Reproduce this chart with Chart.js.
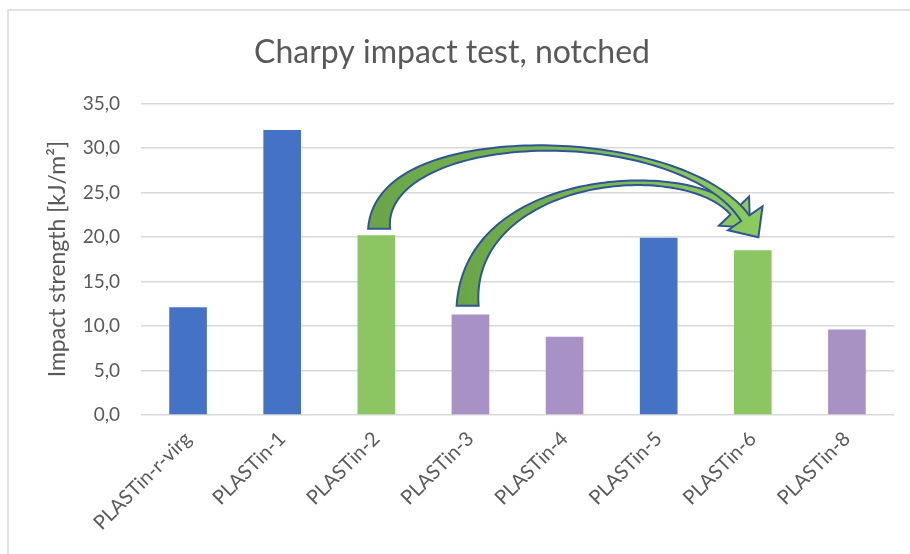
<!DOCTYPE html>
<html>
<head>
<meta charset="utf-8">
<script src="https://cdn.jsdelivr.net/npm/chart.js@4"></script>
<style>
  html, body { margin: 0; padding: 0; background: #fff; }
  #wrap { width: 910px; height: 554px; position: relative; }
</style>
</head>
<body>
<div id="wrap"><canvas id="charpyChart" width="910" height="554"></canvas></div>
<script>
// Chart data
const categories = ['PLASTin-r-virg', 'PLASTin-1', 'PLASTin-2', 'PLASTin-3', 'PLASTin-4', 'PLASTin-5', 'PLASTin-6', 'PLASTin-8'];
const impactStrength = [12.1, 32.0, 20.2, 11.3, 8.8, 19.9, 18.5, 9.6];
const yTicks = [0, 5, 10, 15, 20, 25, 30, 35];

// bar colours (blue = reference, green = pair, purple = others)
const barColors = ['#4472C4', '#4472C4', '#8BC663', '#A791C5', '#A791C5', '#4472C4', '#8BC663', '#A791C5'];

// curved arrows, anchored in data space (category index, value)
const arrows = [
  { p0: [2.97, 12.27], p1: [2.97, 27.0], p2: [5.25, 28.9], p3: [5.80, 22.9] },
  { p0: [2.03, 20.93], p1: [2.03, 32.8], p2: [5.22, 32.8], p3: [5.92, 22.1] }
];

const fontFamily = 'Lato, "Open Sans", sans-serif';
const textColor = '#595959';

const bgBorder = {
  id: 'bgBorder',
  beforeDraw(chart) {
    const ctx = chart.ctx;
    ctx.save();
    ctx.strokeStyle = '#D9D9D9';
    ctx.lineWidth = 1.5;
    ctx.strokeRect(8, 10, 1000, 1000);
    ctx.restore();
  }
};

function bez(a, b, c, d, t) {
  const u = 1 - t;
  return u * u * u * a + 3 * u * u * t * b + 3 * u * t * t * c + t * t * t * d;
}

const curvedArrows = {
  id: 'curvedArrows',
  afterDatasetsDraw(chart) {
    const ctx = chart.ctx;
    const xs = chart.scales.x, ys = chart.scales.y;
    const toPx = p => [xs.getPixelForValue(p[0]), ys.getPixelForValue(p[1])];
    arrows.forEach(a => {
      const P0 = toPx(a.p0), P1 = toPx(a.p1), P2 = toPx(a.p2), P3 = toPx(a.p3);
      const N = 80;
      const left = [], right = [];
      for (let i = 0; i <= N; i++) {
        const t = i / N;
        const x = bez(P0[0], P1[0], P2[0], P3[0], t);
        const y = bez(P0[1], P1[1], P2[1], P3[1], t);
        const t2 = Math.min(1, t + 0.001), t1 = Math.max(0, t - 0.001);
        const dx = bez(P0[0], P1[0], P2[0], P3[0], t2) - bez(P0[0], P1[0], P2[0], P3[0], t1);
        const dy = bez(P0[1], P1[1], P2[1], P3[1], t2) - bez(P0[1], P1[1], P2[1], P3[1], t1);
        const len = Math.hypot(dx, dy) || 1;
        const nx = -dy / len, ny = dx / len;
        // band: thick at the tail, thin over the top, a bit wider before the head
        const w = (42 * t * t - 54 * t + 22) / 2;
        left.push([x + nx * w, y + ny * w]);
        right.push([x - nx * w, y - ny * w]);
      }
      // head
      const dx = P3[0] - P2[0], dy = P3[1] - P2[1];
      const len = Math.hypot(dx, dy);
      const ux = dx / len, uy = dy / len, nx = -uy, ny = ux;
      const hw = 21, hl = 23;
      const wingA = [P3[0] + nx * hw, P3[1] + ny * hw];
      const wingB = [P3[0] - nx * hw, P3[1] - ny * hw];
      const tip = [P3[0] + ux * hl, P3[1] + uy * hl];

      ctx.save();
      ctx.beginPath();
      left.forEach((p, i) => i ? ctx.lineTo(p[0], p[1]) : ctx.moveTo(p[0], p[1]));
      ctx.lineTo(wingA[0], wingA[1]);
      ctx.lineTo(tip[0], tip[1]);
      ctx.lineTo(wingB[0], wingB[1]);
      for (let i = right.length - 1; i >= 0; i--) ctx.lineTo(right[i][0], right[i][1]);
      ctx.closePath();
      const g = ctx.createLinearGradient(P0[0], 0, tip[0], 0);
      g.addColorStop(0, '#6AA647');
      g.addColorStop(0.5, '#7CB953');
      g.addColorStop(1, '#8DCB5E');
      ctx.fillStyle = g;
      ctx.fill();
      ctx.strokeStyle = '#2F5597';
      ctx.lineWidth = 2;
      ctx.lineJoin = 'miter';
      ctx.stroke();
      ctx.restore();
    });
  }
};

new Chart(document.getElementById('charpyChart').getContext('2d'), {
  type: 'bar',
  data: {
    labels: categories,
    datasets: [{
      data: impactStrength,
      backgroundColor: barColors,
      borderWidth: 0,
      categoryPercentage: 1,
      barPercentage: 0.4
    }]
  },
  options: {
    responsive: false,
    animation: false,
    layout: { padding: { left: 10, right: 16, top: 0, bottom: 0 } },
    plugins: {
      legend: { display: false },
      tooltip: { enabled: false },
      title: {
        display: true,
        text: 'Charpy impact test, notched',
        color: textColor,
        font: { family: fontFamily, size: 32, weight: 'normal' },
        padding: { top: 33, bottom: 32 }
      }
    },
    scales: {
      x: {
        grid: { display: false },
        border: { display: false },
        ticks: {
          color: textColor,
          font: { family: fontFamily, size: 20 },
          minRotation: 45,
          maxRotation: 45,
          padding: 4
        },
        afterFit(scale) { scale.height = 139; }
      },
      y: {
        min: 0,
        max: 35,
        afterBuildTicks(scale) { scale.ticks = yTicks.map(v => ({ value: v })); },
        grid: { color: '#D9D9D9', lineWidth: 1.5, drawTicks: false },
        border: { display: false },
        ticks: {
          color: textColor,
          font: { family: fontFamily, size: 19 },
          padding: 21,
          callback: v => v.toFixed(1).replace('.', ',')
        },
        title: {
          display: true,
          text: 'Impact strength [kJ/m\u00B2]',
          color: textColor,
          font: { family: fontFamily, size: 23 },
          padding: { top: 34, bottom: 0 }
        },
        afterFit(scale) { scale.width = 131; }
      }
    }
  },
  plugins: [bgBorder, curvedArrows]
});
</script>
</body>
</html>
